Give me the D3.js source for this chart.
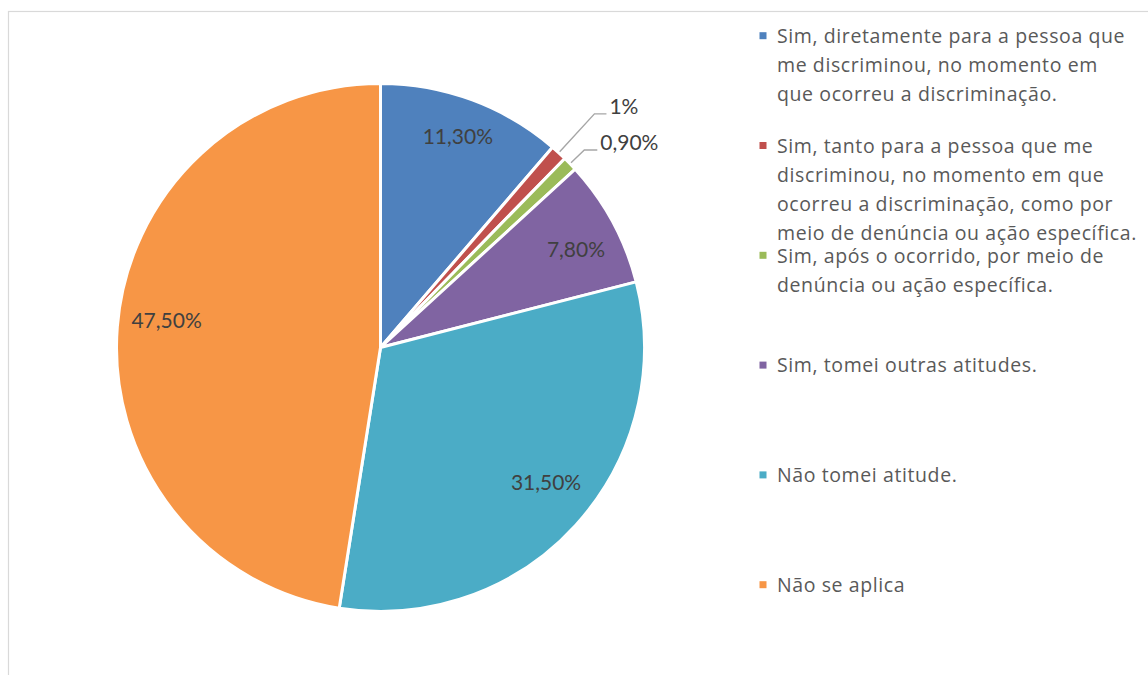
<!DOCTYPE html>
<html lang="pt">
<head>
<meta charset="utf-8">
<script src="https://cdn.jsdelivr.net/npm/d3@7"></script>
<style>
  html, body { margin: 0; padding: 0; background: #fff; }
  svg { display: block; }
</style>
</head>
<body>
<svg id="chart" width="1148" height="675"></svg>
<script>
// Categories (legend text, one entry per wrapped line)
const categoryLines = [
  ["Sim, diretamente para a pessoa que", "me discriminou, no momento em", "que ocorreu a discriminação."],
  ["Sim, tanto para a pessoa que me", "discriminou, no momento em que", "ocorreu a discriminação, como por", "meio de denúncia ou ação específica."],
  ["Sim, após o ocorrido, por meio de", "denúncia ou ação específica."],
  ["Sim, tomei outras atitudes."],
  ["Não tomei atitude."],
  ["Não se aplica"]
];
// Share of answers, in percent
const values = [11.3, 1, 0.9, 7.8, 31.5, 47.5];
// Data label texts
const valueLabels = ["11,30%", "1%", "0,90%", "7,80%", "31,50%", "47,50%"];
const colors = ["#4F81BD", "#C0504D", "#9BBB59", "#8064A2", "#4BACC6", "#F79646"];

// Label placement: radius factor and angular nudge (degrees); outside labels get leader lines
const labelPlacement = [
  { k: 0.851, nudge: -0.2 },
  { outside: true, elbow: 1.2, run: 12 },
  { outside: true, elbow: 1.075, run: 13 },
  { k: 0.829, nudge: 1.7 },
  { k: 0.808, nudge: -3.2 },
  { k: 0.817, nudge: 2.8 }
];

const svg = d3.select("#chart");
const W = 1148, H = 675;

// chart area frame
svg.append("rect")
  .attr("x", 8.5).attr("y", 11.5)
  .attr("width", W + 20).attr("height", H + 20)
  .attr("fill", "#fff")
  .attr("stroke", "#D9D9D9")
  .attr("stroke-width", 1.2);

const cx = 380.5, cy = 347.5, R = 264;

const pie = d3.pie().sort(null).value(d => d);
const arcs = pie(values);
const arc = d3.arc().innerRadius(0).outerRadius(R);

const g = svg.append("g").attr("transform", `translate(${cx},${cy})`);

g.selectAll("path.slice")
  .data(arcs)
  .join("path")
  .attr("class", "slice")
  .attr("d", arc)
  .attr("fill", (d, i) => colors[i])
  .attr("stroke", "#fff")
  .attr("stroke-width", 3)
  .attr("stroke-linejoin", "round");

const deg = Math.PI / 180;
const polar = (a, r) => [Math.sin(a) * r, -Math.cos(a) * r];

const labelFont = "Lato, 'Open Sans', sans-serif";
const legendFont = "'Open Sans', Lato, sans-serif";

arcs.forEach((d, i) => {
  const p = labelPlacement[i];
  const mid = (d.startAngle + d.endAngle) / 2;
  if (!p.outside) {
    const [x, y] = polar(mid + p.nudge * deg, R * p.k);
    g.append("text")
      .attr("x", x).attr("y", y)
      .attr("text-anchor", "middle")
      .attr("dy", "0.36em")
      .attr("font-family", labelFont)
      .attr("font-size", 21)
      .attr("fill", "#404040")
      .text(valueLabels[i]);
  } else {
    const [x0, y0] = polar(mid, R * 1.005);
    const [x1, y1] = polar(mid, R * p.elbow);
    const x2 = x1 + p.run;
    g.append("polyline")
      .attr("points", [[x0, y0], [x1, y1], [x2, y1]].map(q => q.join(",")).join(" "))
      .attr("fill", "none")
      .attr("stroke", "#A6A6A6")
      .attr("stroke-width", 1.4);
    g.append("text")
      .attr("x", x2 + 3).attr("y", y1)
      .attr("dy", "0.02em")
      .attr("font-family", labelFont)
      .attr("font-size", 21)
      .attr("fill", "#404040")
      .text(valueLabels[i]);
  }
});

// legend
const legendY = d3.scaleLinear().domain([0, categoryLines.length - 1]).range([35.7, 584.7]);
const lineGap = 29;
const legend = svg.append("g");
categoryLines.forEach((lines, i) => {
  const y = legendY(i);
  legend.append("rect")
    .attr("x", 759.5).attr("y", y - 3.5)
    .attr("width", 7).attr("height", 7)
    .attr("fill", colors[i]);
  const t = legend.append("text")
    .attr("font-family", legendFont)
    .attr("font-size", 19.5)
    .attr("letter-spacing", 0.6)
    .attr("fill", "#595959");
  lines.forEach((ln, j) => {
    t.append("tspan")
      .attr("x", 777)
      .attr("y", y + 7.3 + j * lineGap)
      .text(ln);
  });
});
</script>
</body>
</html>
